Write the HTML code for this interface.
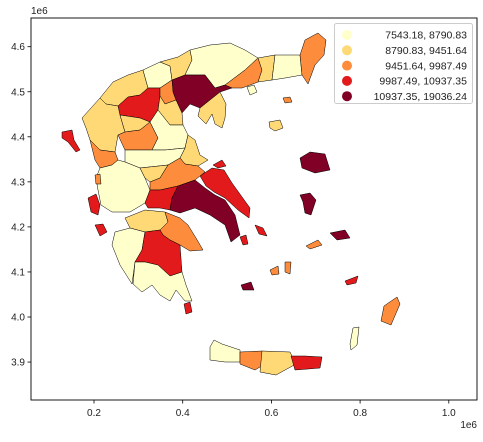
<!DOCTYPE html>
<html><head><meta charset="utf-8"><style>
body{margin:0;background:#fff;font-family:"Liberation Sans",sans-serif}
svg text{font-family:"Liberation Sans",sans-serif;fill:#222}
</style></head><body>
<svg id="chart" width="483" height="437" viewBox="0 0 483 437" xmlns="http://www.w3.org/2000/svg">
<rect width="483" height="437" fill="#fff"/>
<g id="regions"></g>
<rect x="31" y="18" width="446" height="382" fill="none" stroke="#000" stroke-width="0.9"/>
<g id="axes"></g>
<g id="legend"></g>
</svg>
<script>
const xTicks=[0.2,0.4,0.6,0.8,1.0];
const xTickLabels=["0.2","0.4","0.6","0.8","1.0"];
const yTicks=[3.9,4.0,4.1,4.2,4.3,4.4,4.5,4.6];
const yTickLabels=["3.9","4.0","4.1","4.2","4.3","4.4","4.5","4.6"];
const binLabels=["7543.18,  8790.83","8790.83,  9451.64","9451.64,  9987.49","9987.49, 10937.35","10937.35, 19036.24"];
const binUpper=[8790.83,9451.64,9987.49,10937.35,19036.24];
const binColors=["#ffffcc","#fed976","#fd8d3c","#e31a1c","#800026"];
const regionNames=["florina","pella","kilkis","serres-drama","kavala","xanthi","rodopi","evros","thessaloniki","chalkidiki","kozani","imathia","pieria","ioannina","grevena","trikala","larissa","magnesia","karditsa","arta-preveza","aitoloakarnania","evrytania","fthiotida","phocis","attica-boeotia","evia","achaia","corinthia-argolida","ilia","arcadia","laconia-messinia","thasos","samothraki","lemnos","kythira","corfu","kefalonia","zakynthos","lefkada","lesvos","chios","samos","ikaria","skyros","andros","naxos","paros","kos","rhodes","karpathos","crete-chania","crete-rethymno","crete-heraklion","crete-lasithi","santorini","sporades"];
const regionValues=[9000,8600,9100,8200,9700,9100,8500,9600,12500,9200,10500,9800,9200,9000,9000,9700,8600,9300,8500,9800,8400,9200,9800,10400,14000,10300,9100,9600,8500,10600,8300,8400,9700,9300,10200,10500,10400,10300,9700,12000,12500,11500,9700,10200,10300,9800,9700,10400,9700,8400,8600,9800,9300,10400,11800,10200];
const regionShapes=[
[[100,98],[113,82],[128,75],[143,70],[148,88],[140,95],[128,97],[118,106],[106,104]],
[[143,70],[160,62],[170,66],[172,80],[160,88],[148,88]],
[[160,62],[178,57],[190,50],[192,60],[185,75],[172,80],[170,66]],
[[190,50],[210,45],[230,43],[245,50],[258,58],[245,70],[225,85],[215,88],[205,75],[185,75],[192,60]],
[[225,85],[245,70],[258,58],[262,70],[258,82],[242,88],[232,88]],
[[258,58],[275,55],[272,80],[258,82],[262,70]],
[[275,55],[300,55],[302,75],[285,78],[272,80]],
[[300,55],[305,40],[318,33],[326,40],[324,55],[315,65],[308,84],[302,75]],
[[172,80],[185,75],[205,75],[215,88],[225,85],[232,88],[220,92],[210,100],[200,108],[190,104],[182,113],[176,100],[173,92]],
[[200,108],[210,100],[220,92],[226,104],[225,118],[222,128],[215,124],[212,114],[206,124],[198,116]],
[[118,106],[128,97],[140,95],[148,88],[160,88],[160,96],[158,110],[150,122],[140,118],[120,115]],
[[160,88],[172,80],[173,92],[176,100],[165,104],[160,96]],
[[165,104],[176,100],[182,113],[183,125],[170,125],[158,110],[160,96]],
[[82,118],[100,98],[106,104],[118,106],[120,115],[125,132],[118,135],[115,152],[100,150],[90,140],[86,128]],
[[120,115],[140,118],[150,122],[140,130],[125,132]],
[[125,132],[140,130],[150,122],[158,138],[152,150],[125,150],[118,135]],
[[150,122],[158,110],[170,125],[183,125],[188,135],[185,148],[165,150],[152,150],[158,138]],
[[185,148],[188,135],[195,140],[200,155],[208,160],[198,166],[185,164],[180,158]],
[[125,150],[152,150],[165,150],[185,148],[180,158],[168,165],[140,168],[125,162]],
[[90,140],[100,150],[115,152],[118,160],[112,165],[100,168],[95,160]],
[[100,168],[112,165],[118,160],[125,162],[140,168],[145,178],[150,190],[145,203],[130,212],[112,212],[101,205],[98,190],[96,178]],
[[140,168],[168,165],[160,178],[150,182],[145,178]],
[[168,165],[180,158],[185,164],[198,166],[205,172],[195,180],[178,186],[160,190],[150,190],[150,182],[160,178]],
[[150,190],[160,190],[178,186],[172,198],[170,210],[160,208],[148,208],[145,203]],
[[178,186],[195,180],[205,188],[215,195],[225,200],[235,215],[240,235],[231,242],[225,225],[210,215],[195,208],[180,213],[170,210],[172,198]],
[[200,176],[212,168],[224,170],[232,183],[250,208],[249,218],[238,210],[225,198],[214,192],[206,186]],
[[125,218],[145,210],[165,212],[168,222],[160,230],[145,232],[130,228]],
[[165,212],[180,218],[188,225],[196,238],[203,250],[190,251],[180,245],[170,240],[163,235],[160,230],[168,222]],
[[115,232],[130,228],[145,232],[142,250],[135,262],[132,284],[120,265],[112,245]],
[[145,232],[160,230],[163,235],[170,240],[180,245],[182,272],[170,276],[158,265],[145,262],[135,262],[142,250]],
[[135,262],[145,262],[158,265],[170,276],[182,272],[186,285],[192,301],[185,301],[176,290],[170,301],[160,295],[152,285],[142,292],[133,284]],
[[247,87],[254,85],[257,92],[250,95]],
[[283,98],[290,97],[292,102],[285,103]],
[[269,122],[280,120],[283,128],[275,131],[270,128]],
[[184,304],[190,302],[192,312],[186,314]],
[[62,132],[72,130],[74,140],[80,150],[76,152],[68,142],[62,138]],
[[88,198],[96,194],[100,205],[98,215],[91,212]],
[[95,225],[103,224],[107,232],[100,236]],
[[95,175],[100,174],[101,184],[96,184]],
[[300,158],[310,152],[325,154],[330,170],[315,173],[302,168]],
[[300,195],[310,193],[316,200],[311,215],[305,213],[303,202]],
[[330,233],[345,230],[350,238],[337,240]],
[[306,246],[318,240],[322,245],[310,249]],
[[255,225],[263,228],[267,236],[259,234]],
[[240,237],[246,235],[248,244],[243,245]],
[[285,262],[291,262],[290,274],[285,272]],
[[270,270],[278,266],[279,274],[272,275]],
[[345,281],[358,276],[356,283],[347,285]],
[[384,306],[397,297],[400,304],[391,325],[381,321]],
[[353,328],[359,327],[357,345],[351,350],[350,344]],
[[210,347],[214,340],[222,344],[240,350],[240,362],[225,362],[210,360]],
[[240,352],[262,351],[265,364],[255,370],[240,364]],
[[262,351],[290,352],[296,364],[276,375],[260,372]],
[[291,356],[305,356],[322,357],[320,368],[308,369],[295,370]],
[[241,285],[251,282],[254,290],[243,290]],
[[213,165],[222,160],[226,166],[218,168]]
];
function colorFor(v){for(let i=0;i<binUpper.length;i++){if(v<=binUpper[i])return binColors[i];}return binColors[binColors.length-1];}
const NS="http://www.w3.org/2000/svg";
const X0=31,X1=477,Y0=18,Y1=400;
function xScale(v){return 94+(v-0.2)*443.5;}
function yScale(v){return 46.7+(4.6-v)*450.5;}
const rg=document.getElementById('regions');
regionShapes.forEach((pts,i)=>{
  const p=document.createElementNS(NS,'polygon');
  p.setAttribute('points',pts.map(q=>q.join(',')).join(' '));
  p.setAttribute('fill',colorFor(regionValues[i]));
  p.setAttribute('stroke','#000');
  p.setAttribute('stroke-width','0.5');
  p.setAttribute('stroke-linejoin','round');
  
  
  rg.appendChild(p);
});
const ax=document.getElementById('axes');
xTicks.forEach((t,i)=>{
  const x=xScale(t);
  const l=document.createElementNS(NS,'line');
  l.setAttribute('x1',x);l.setAttribute('x2',x);l.setAttribute('y1',Y1);l.setAttribute('y2',Y1+3.5);l.setAttribute('stroke','#000');l.setAttribute('stroke-width','0.8');
  
  
  ax.appendChild(l);
  const tx=document.createElementNS(NS,'text');
  tx.setAttribute('x',x);tx.setAttribute('y',Y1+16);tx.setAttribute('text-anchor','middle');tx.setAttribute('font-size','10');
  tx.textContent=xTickLabels[i];
  
  
  ax.appendChild(tx);
});
yTicks.forEach((t,i)=>{
  const y=yScale(t);
  const l=document.createElementNS(NS,'line');
  l.setAttribute('x1',X0-3.5);l.setAttribute('x2',X0);l.setAttribute('y1',y);l.setAttribute('y2',y);l.setAttribute('stroke','#000');l.setAttribute('stroke-width','0.8');
  
  
  ax.appendChild(l);
  const tx=document.createElementNS(NS,'text');
  tx.setAttribute('x',X0-6);tx.setAttribute('y',y+3.5);tx.setAttribute('text-anchor','end');tx.setAttribute('font-size','10');
  tx.textContent=yTickLabels[i];
  
  
  ax.appendChild(tx);
});
function addText(x,y,s,name,anchor){const t=document.createElementNS(NS,'text');t.setAttribute('x',x);t.setAttribute('y',y);t.setAttribute('font-size','10');if(anchor)t.setAttribute('text-anchor',anchor);t.textContent=s;
  
  
  ax.appendChild(t);}
addText(31,14,"1e6","y-axis-offset");
addText(477,428,"1e6","x-axis-offset","end");
const lg=document.getElementById('legend');
const box=document.createElementNS(NS,'rect');
box.setAttribute('x',334.5);box.setAttribute('y',23.5);box.setAttribute('width',138);box.setAttribute('height',80);box.setAttribute('rx',2);box.setAttribute('fill','#fff');box.setAttribute('fill-opacity','0.8');box.setAttribute('stroke','#ccc');


lg.appendChild(box);
binLabels.forEach((s,i)=>{
  const y=35+i*15.3;
  const c=document.createElementNS(NS,'circle');
  c.setAttribute('cx',347);c.setAttribute('cy',y);c.setAttribute('r',5);c.setAttribute('fill',binColors[i]);
  
  
  lg.appendChild(c);
  const t=document.createElementNS(NS,'text');
  t.setAttribute('x',467);t.setAttribute('y',y+3.7);t.setAttribute('font-size','10.5');t.setAttribute('text-anchor','end');t.setAttribute('xml:space','preserve');
  t.textContent=s;
  
  
  lg.appendChild(t);
});
</script>
</body></html>
